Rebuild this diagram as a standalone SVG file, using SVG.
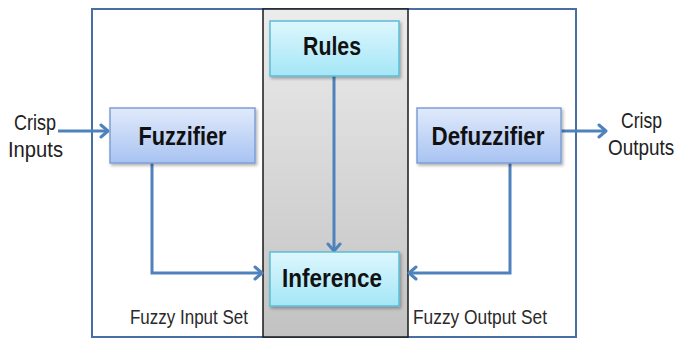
<svg xmlns="http://www.w3.org/2000/svg" width="679" height="339" viewBox="0 0 679 339">
  <defs>
    <linearGradient id="gBlue" x1="0" y1="0" x2="0" y2="1">
      <stop offset="0" stop-color="#e1eafb"/>
      <stop offset="1" stop-color="#a8c3f2"/>
    </linearGradient>
    <linearGradient id="gCyan" x1="0" y1="0" x2="0" y2="1">
      <stop offset="0" stop-color="#ddf7fd"/>
      <stop offset="1" stop-color="#a4e6f7"/>
    </linearGradient>
    <linearGradient id="gGray" x1="0" y1="0" x2="0" y2="1">
      <stop offset="0" stop-color="#ececec"/>
      <stop offset="1" stop-color="#c2c2c2"/>
    </linearGradient>
    <filter id="shadow" x="-10%" y="-10%" width="125%" height="130%">
      <feDropShadow dx="1.5" dy="2" stdDeviation="1.5" flood-color="#000" flood-opacity="0.3"/>
    </filter>
    <marker id="chev" markerUnits="userSpaceOnUse" markerWidth="14" markerHeight="16" refX="10" refY="8" orient="auto">
      <path d="M3,2 L10,8 L3,14" fill="none" stroke="#4f81bd" stroke-width="3" stroke-linecap="round" stroke-linejoin="round"/>
    </marker>
  </defs>
  <style>
    .frame { fill: #ffffff; stroke: #4a6ea3; stroke-width: 2; }
    .panel { fill: url(#gGray); stroke: #1a1a1a; stroke-width: 1.5; }
    .blue { fill: url(#gBlue); stroke: #7d9ed6; stroke-width: 1.5; filter: url(#shadow); }
    .cyan { fill: url(#gCyan); stroke: #5cbdd6; stroke-width: 1.5; filter: url(#shadow); }
    .label { font-family: "Liberation Sans", Arial, sans-serif; font-weight: bold; font-size: 25px; fill: #111111; text-anchor: middle; }
    .side { font-family: "Liberation Sans", Arial, sans-serif; font-size: 22px; fill: #222222; }
    .set { font-family: "Liberation Sans", Arial, sans-serif; font-size: 20px; fill: #2a2a2a; }
    .wire { fill: none; stroke: #4f81bd; stroke-width: 3; marker-end: url(#chev); }
  </style>

  <!-- outer system boundary and central inference band -->
  <rect class="frame" x="92" y="9" width="484" height="328"/>
  <rect class="panel" x="263" y="9" width="145" height="328"/>

  <!-- connectors -->
  <g id="connectors">
    <path class="wire" d="M58,131 H108"/>
    <path class="wire" d="M152,163 V273 H262"/>
    <path class="wire" d="M334,76 V251"/>
    <path class="wire" d="M510,163 V273 H409"/>
    <path class="wire" d="M561,131 H606"/>
  </g>

  <g id="fuzzifier">
    <rect class="blue" x="110" y="108" width="145" height="55"/>
    <text class="label" x="182.5" y="145" textLength="88" lengthAdjust="spacingAndGlyphs">Fuzzifier</text>
  </g>

  <g id="rules">
    <rect class="cyan" x="270" y="21" width="129" height="55"/>
    <text class="label" x="332" y="55" textLength="58" lengthAdjust="spacingAndGlyphs">Rules</text>
  </g>

  <g id="inference">
    <rect class="cyan" x="270" y="252" width="129" height="54"/>
    <text class="label" x="332" y="287" textLength="100" lengthAdjust="spacingAndGlyphs">Inference</text>
  </g>

  <g id="defuzzifier">
    <rect class="blue" x="417" y="108" width="144" height="55"/>
    <text class="label" x="488" y="145" textLength="113" lengthAdjust="spacingAndGlyphs">Defuzzifier</text>
  </g>

  <g id="crisp-inputs">
    <text class="side" x="14" y="130" textLength="42" lengthAdjust="spacingAndGlyphs">Crisp</text>
    <text class="side" x="8" y="157" textLength="55" lengthAdjust="spacingAndGlyphs">Inputs</text>
  </g>

  <g id="crisp-outputs">
    <text class="side" x="621" y="128" textLength="41" lengthAdjust="spacingAndGlyphs">Crisp</text>
    <!-- horizontally condensed so the word stays inside the canvas -->
    <text class="side" transform="translate(608,155) scale(0.86,1)" x="0" y="0">Outputs</text>
  </g>

  <g id="set-labels">
    <text class="set" x="130" y="324" textLength="118" lengthAdjust="spacingAndGlyphs">Fuzzy Input Set</text>
    <text class="set" x="413" y="324" textLength="134" lengthAdjust="spacingAndGlyphs">Fuzzy Output Set</text>
  </g>
</svg>
